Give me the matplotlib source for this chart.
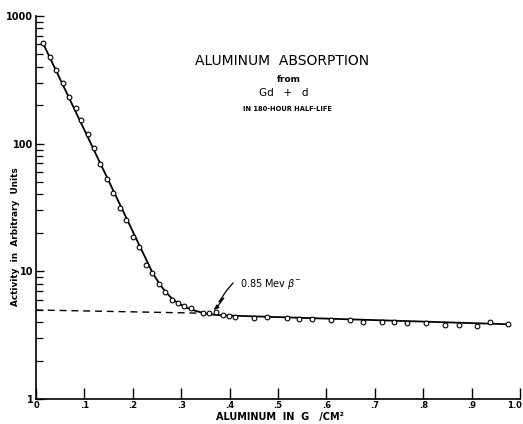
import matplotlib
matplotlib.use("Agg")
import matplotlib.pyplot as plt
from matplotlib.transforms import ScaledTranslation
from matplotlib.ticker import FixedLocator, FixedFormatter, LogLocator, NullFormatter

# Measured activity (arbitrary units) against aluminum absorber thickness (g/cm^2)
thickness = [0.014, 0.029, 0.041, 0.055, 0.069, 0.082, 0.094, 0.108, 0.120, 0.133,
             0.146, 0.160, 0.174, 0.185, 0.200, 0.213, 0.227, 0.240, 0.255, 0.267,
             0.280, 0.293, 0.306, 0.320, 0.346, 0.358, 0.371, 0.386, 0.399, 0.411,
             0.450, 0.477, 0.518, 0.544, 0.570, 0.610, 0.649, 0.675, 0.714, 0.740,
             0.766, 0.806, 0.845, 0.873, 0.912, 0.937, 0.976]
activity = [617, 479, 377, 297, 233, 189, 153, 119, 93, 69,
            53, 41, 31.5, 25.2, 18.7, 15.6, 11.2, 9.75, 7.96, 6.85,
            5.96, 5.61, 5.35, 5.13, 4.69, 4.69, 4.80, 4.55, 4.49, 4.41,
            4.33, 4.36, 4.29, 4.23, 4.23, 4.15, 4.15, 4.03, 4.03, 4.03,
            3.92, 3.92, 3.80, 3.80, 3.73, 3.99, 3.85]

# Smooth absorption curve drawn through the measurements
curve_x = [0.014, 0.240, 0.254, 0.267, 0.281, 0.293, 0.306, 0.320, 0.335, 0.349,
           0.364, 0.384, 0.977]
curve_y = [617, 9.87, 8.10, 6.95, 6.12, 5.65, 5.30, 5.02, 4.84, 4.69,
           4.59, 4.52, 3.85]

# Hard-component background extrapolated back to zero thickness
background_x = [0.0, 0.345]
background_y = [4.98, 4.70]

x_ticks = [0.0, 0.1, 0.2, 0.3, 0.4, 0.5, 0.6, 0.7, 0.8, 0.9, 1.0]
x_tick_labels = ["0", ".1", ".2", ".3", ".4", ".5", ".6", ".7", ".8", ".9", "1.0"]
y_ticks = [1, 10, 100, 1000]
y_tick_labels = ["1", "10", "100", "1000"]

fig = plt.figure(figsize=(5.23, 4.24), dpi=100)
ax = fig.add_axes([36 / 523, 25 / 424, 484 / 523, 383 / 424])

ax.set_yscale("log")
ax.set_xlim(0, 1.0)
ax.set_ylim(1, 1000)

ax.plot(curve_x, curve_y, color="black", lw=1.3, zorder=2)
ax.plot(background_x, background_y, color="black", lw=1.0,
        dashes=(5, 3.5), zorder=2)
ax.plot(thickness, activity, "o", ms=3.4, mfc="white", mec="black",
        mew=0.8, zorder=3)

for side in ("top", "right"):
    ax.spines[side].set_visible(False)
for side in ("left", "bottom"):
    ax.spines[side].set_linewidth(1.2)

ax.xaxis.set_major_locator(FixedLocator(x_ticks))
ax.xaxis.set_major_formatter(FixedFormatter(x_tick_labels))
ax.yaxis.set_major_locator(FixedLocator(y_ticks))
ax.yaxis.set_major_formatter(FixedFormatter(y_tick_labels))
ax.yaxis.set_minor_locator(LogLocator(base=10, subs=range(2, 10)))
ax.yaxis.set_minor_formatter(NullFormatter())

ax.tick_params(axis="x", direction="in", length=8, width=1.0, pad=1.5)
ax.tick_params(axis="y", which="major", direction="in", length=6, width=1.0, pad=2)
ax.tick_params(axis="y", which="minor", direction="in", length=5, width=0.9)
for lab in ax.get_xticklabels():
    lab.set_fontsize(6)
    lab.set_fontweight("bold")
for lab in ax.get_yticklabels():
    lab.set_fontsize(7)
    lab.set_fontweight("bold")

# keep the last x label inside the canvas
last = ax.get_xticklabels()[-1]
last.set_transform(last.get_transform() + ScaledTranslation(-6 / 100, 0, fig.dpi_scale_trans))

ax.text(0.505, -18 / 383, "ALUMINUM  IN  G   /CM\u00b2", transform=ax.transAxes,
        ha="center", va="center", fontsize=7, fontweight="bold")
ax.set_ylabel("Activity  in  Arbitrary  Units", fontsize=6.4, fontweight="bold")
ax.yaxis.set_label_coords(-0.034, 0.423)

# Title block
fig.text(282 / 523, 1 - 61 / 424, "ALUMINUM  ABSORPTION", ha="center", va="center",
         fontsize=10)
fig.text(289 / 523, 1 - 79 / 424, "from", ha="center", va="center",
         fontsize=6.5, fontweight="bold")
fig.text(284 / 523, 1 - 93 / 424, "Gd   +   d", ha="center", va="center",
         fontsize=7.5)
fig.text(287 / 523, 1 - 109 / 424, "IN 180-HOUR HALF-LIFE", ha="center", va="center",
         fontsize=4.8, fontweight="bold")

# Label for the hard beta component with a broken leader line
ax.text(0.421, 7.95, "0.85 Mev $\\beta^{-}$", fontsize=7, ha="left", va="center")
leader_x = [0.407, 0.393, 0.378, 0.388, 0.374]
leader_y = [8.10, 7.01, 5.75, 6.18, 5.25]
ax.plot(leader_x, leader_y, color="black", lw=0.9)
ax.annotate("", xy=(0.364, 4.86), xytext=(0.374, 5.25),
            arrowprops=dict(arrowstyle="-|>", color="black", lw=0.9,
                            mutation_scale=6))

fig.savefig("out.png", dpi=100, facecolor="white")
